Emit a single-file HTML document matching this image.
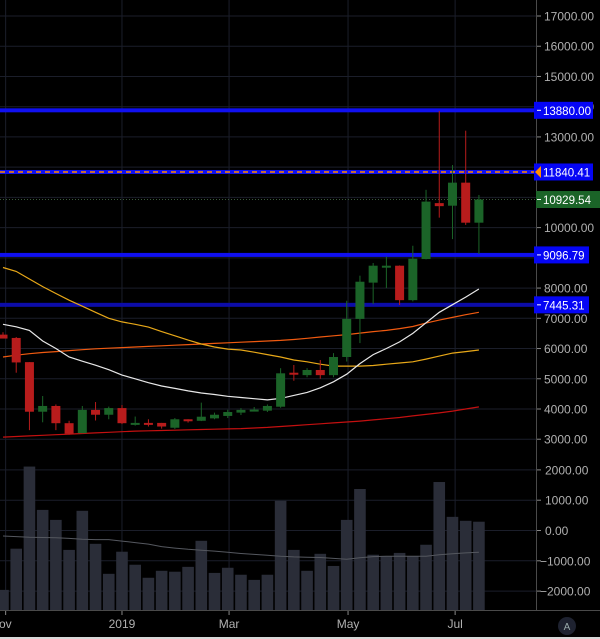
<!DOCTYPE html>
<html><head><meta charset="utf-8"><style>
html,body{margin:0;padding:0;background:#000;width:600px;height:639px;overflow:hidden}
svg{display:block;font-family:"Liberation Sans",sans-serif}
</style></head><body>
<svg id="c" width="600" height="639"></svg>
<script>
const opens=[6460,6350,5550,3910,4100,3530,3200,3970,3810,4030,3520,3540,3540,3380,3660,3610,3690,3770,3880,3960,3945,4075,5200,5120,5290,5120,5720,6980,8180,8720,8740,7600,8960,10810,10725,11487,10163];
const closes=[6330,5540,3910,4100,3530,3180,3970,3810,4030,3530,3540,3520,3420,3660,3610,3745,3810,3900,3970,3980,4100,5180,5160,5290,5120,5720,6980,8210,8740,8740,7600,8970,10860,10710,11487,10163,10929];
const highs=[6540,6380,5550,4430,4150,3610,4100,4230,4080,4130,3750,3660,3540,3700,3660,4210,3880,3975,4030,4065,4150,5350,5455,5350,5620,5850,7580,8410,8830,9040,8750,9400,11250,13860,12070,13206,11080];
const lows=[6330,5200,3300,3560,3300,3150,3200,3620,3660,3500,3450,3420,3350,3340,3550,3600,3660,3700,3800,3940,3900,4040,4935,5050,5000,5050,5570,6180,7470,8000,7440,7560,8950,10330,9620,10090,9127];
const volumes=[-1960,-600,2110,680,350,-640,650,-440,-1430,-700,-1130,-1560,-1330,-1360,-1200,-340,-1400,-1230,-1460,-1630,-1460,980,-640,-1330,-770,-1170,350,1370,-800,-840,-740,-840,-470,1600,450,320,290];
const volMA=[-180,-200,-220,-230,-240,-260,-290,-300,-300,-350,-400,-450,-530,-580,-620,-650,-680,-720,-760,-790,-820,-850,-870,-880,-890,-920,-950,-900,-860,-850,-850,-850,-850,-800,-770,-740,-720];
const maWhite=[6800,6720,6600,6250,6000,5720,5580,5450,5300,5120,5000,4870,4760,4680,4600,4530,4480,4420,4380,4340,4300,4350,4450,4550,4700,4900,5150,5500,5800,6000,6220,6500,6850,7200,7450,7700,7970];
const maYellow=[8680,8550,8300,8050,7820,7600,7400,7200,7000,6880,6800,6710,6560,6420,6280,6150,6050,5980,5950,5880,5800,5720,5620,5560,5480,5420,5420,5420,5440,5480,5520,5560,5650,5750,5850,5900,5950];
const maOrange=[5720,5780,5830,5870,5900,5930,5960,5990,6010,6030,6050,6070,6090,6110,6130,6150,6170,6190,6210,6230,6250,6270,6300,6340,6380,6420,6460,6510,6560,6600,6660,6730,6840,6940,7030,7120,7200];
const maRed=[3070,3090,3110,3130,3150,3170,3190,3210,3230,3250,3270,3280,3290,3300,3310,3320,3330,3340,3350,3370,3390,3420,3450,3480,3510,3540,3570,3600,3640,3680,3720,3770,3820,3870,3930,4000,4070];
const priceTicks=[17000,16000,15000,14000,13000,10000,8000,7000,6000,5000,4000,3000];
const gridPrices=[17000,16000,15000,14000,13000,12000,11000,10000,9000,8000,7000,6000,5000,4000,3000];
const volTicks=[2000,1000,0,-1000,-2000];
const timeLabels=["ov","2019","Mar","May","Jul"];
const timeIdx=[0.2,9,17.1,26.1,34.2];
const levels=[{p:13880,t:"13880.00",c:"#1010f0"},{p:11840.41,t:"11840.41",c:"#1010f0"},{p:9096.79,t:"9096.79",c:"#1010f0"},{p:7445.31,t:"7445.31",c:"#0c0ca8"}];
const lastPrice=10929.54;

const NS="http://www.w3.org/2000/svg";
const svg=document.getElementById('c');
const xOf=i=>3+i*13.22;
const yP=p=>16+(17000-p)*0.03023;
const yV=v=>530.5-v*0.0303;
function mk(t,a,parent){const e=document.createElementNS(NS,t);for(const k in a)e.setAttribute(k,a[k]);(parent||svg).appendChild(e);return e;}
function txt(x,y,s,fill,anchor){const e=mk('text',{x:x,y:y,fill:fill,'font-size':12,'text-anchor':anchor||'start'});e.textContent=s;return e;}

gridPrices.forEach(p=>{const l=mk('line',{x1:0,x2:536,y1:yP(p),y2:yP(p),stroke:'#1b1e2a','stroke-width':1});

});
volTicks.forEach(v=>{const l=mk('line',{x1:0,x2:536,y1:yV(v),y2:yV(v),stroke:'#1b1e2a','stroke-width':1});

});
timeIdx.forEach(i=>{const l=mk('line',{x1:xOf(i),x2:xOf(i),y1:0,y2:610,stroke:'#1b1e2a','stroke-width':1});

});

volumes.forEach((v,i)=>{const y=yV(v);const r=mk('rect',{x:xOf(i)-5.8,y:y,width:11.6,height:610-y,fill:'#2a2d38'});

});
function line(arr,yf,color,w,name){const d=arr.map((v,i)=>(i?'L':'M')+xOf(i).toFixed(1)+' '+yf(v).toFixed(1)).join('');
const p=mk('path',{d:d,fill:'none',stroke:color,'stroke-width':w});

}
line(volMA,yV,'#55585f',1,'volume-ma-line');

levels.forEach(l=>{const y=yP(l.p);const r=mk('rect',{x:0,y:y-2,width:536,height:4,fill:l.c});

});
const dash=mk('line',{x1:0,x2:536,y1:yP(11840.41),y2:yP(11840.41),stroke:'#ff8c00','stroke-width':1.5,'stroke-dasharray':'5,4'});


const dot=mk('line',{x1:0,x2:536,y1:yP(lastPrice),y2:yP(lastPrice),stroke:'#3a5a3a','stroke-width':1,'stroke-dasharray':'1,2'});



line(maRed,yP,'#c41010',1.2,'ma200-line');
line(maOrange,yP,'#f05a10',1.2,'ma100-line');
line(maYellow,yP,'#e8a818',1.2,'ma50-line');
line(maWhite,yP,'#e8e8e8',1.2,'ma20-line');

opens.forEach((o,i)=>{const c=closes[i];const col=c>=o?'#1b6428':'#b81c1c';const x=xOf(i);
const w=mk('line',{x1:x,x2:x,y1:yP(highs[i]),y2:yP(lows[i]),stroke:col,'stroke-width':1});


const t=Math.min(yP(o),yP(c));const h=Math.max(2,Math.abs(yP(o)-yP(c)));
const b=mk('rect',{x:x-4.5,y:t,width:9,height:h,fill:col});

});

const ax=mk('rect',{x:537,y:0,width:63,height:639,fill:'#000'});


mk('line',{x1:536.5,x2:536.5,y1:0,y2:639,stroke:'#4a4a4a'});
const ta=mk('rect',{x:0,y:611,width:537,height:26,fill:'#000'});


mk('line',{x1:0,x2:600,y1:610.5,y2:610.5,stroke:'#4a4a4a'});
mk('rect',{x:0,y:637,width:600,height:2,fill:'#d8d8d8'});

priceTicks.forEach(p=>{const y=yP(p);mk('line',{x1:537,x2:541,y1:y,y2:y,stroke:'#888'});
const t=txt(544,y+4.5,p.toFixed(2),'#b0b0b0');

});
volTicks.forEach(v=>{const y=yV(v);mk('line',{x1:537,x2:541,y1:y,y2:y,stroke:'#888'});
const t=txt(v<0?540:545,y+4.5,v===0?'0.00':v.toFixed(2).replace('-','\u2212'),'#b0b0b0');

});
timeLabels.forEach((s,k)=>{const x=xOf(timeIdx[k]);mk('line',{x1:x,x2:x,y1:611,y2:615,stroke:'#888'});
const t=txt(k===0?-1:x,628,s,'#b0b0b0',k===0?'start':'middle');

});

levels.forEach(l=>{const y=yP(l.p);const g=mk('g',{});


mk('rect',{x:534,y:y-8.5,width:l.t.length>7?(l.p>12000&&l.p<12500?64:59):55,height:17,fill:'#0505f5'},g);
mk('line',{x1:537,x2:541,y1:y,y2:y,stroke:'#fff'},g);
const t=txt(543,y+4.5,l.t,'#fff');t.setAttribute('font-size','11.5');g.appendChild(t);});
{const y=yP(11840.41);const tri=mk('path',{d:`M535 ${y} L541 ${y-6} L541 ${y+6}Z`,fill:'#ff8c00'});


const y2=yP(lastPrice);const g=mk('g',{});


mk('rect',{x:536,y:y2-8.5,width:64,height:17,fill:'#1b6428'},g);
mk('line',{x1:537,x2:541,y1:y2,y2:y2,stroke:'#fff'},g);
const lt=txt(543,y2+4.5,lastPrice.toFixed(2),'#fff');lt.setAttribute('font-size','11.5');g.appendChild(lt);}
const ab=mk('circle',{cx:567,cy:626,r:9,fill:'#1e2230'});


txt(567,630,'A','#9aa','middle').setAttribute('font-size','10');
</script>
</body></html>
